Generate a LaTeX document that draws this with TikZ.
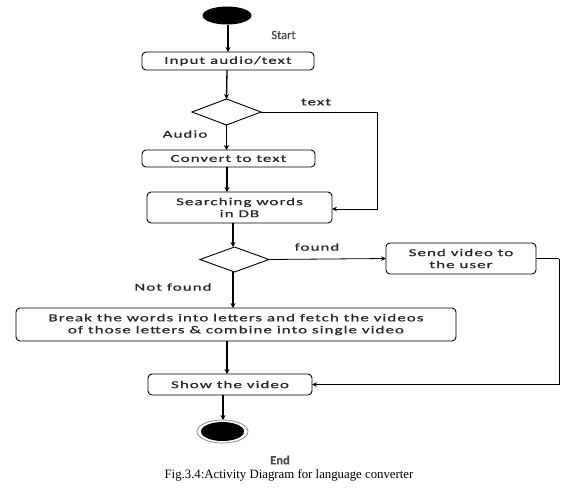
\documentclass[tikz,border=0pt]{standalone}
\usepackage{fontspec}
\setmainfont{Liberation Serif}
\newfontfamily\dfont[FakeStretch=1.6,LetterSpace=10,FakeBold=0.6]{Carlito}
\newfontfamily\lfont[FakeBold=0.4]{Carlito}
\usetikzlibrary{arrows.meta,shapes.geometric}
\begin{document}
\begin{tikzpicture}[x=1pt,y=-1pt,
  every node/.style={inner sep=0pt,outer sep=0pt},
  txt/.style={font=\dfont\fontsize{10.6}{12}\selectfont, text=black!85},
  actbox/.style={txt, draw=black, line width=0.9pt, rounded corners=4pt, align=center},
  decision/.style={diamond, draw=black, line width=0.9pt},
  lbl/.style={txt},
  flow/.style={draw=black, line width=1.3pt, -{Stealth[length=5pt,width=5pt]}},
  sideflow/.style={draw=black, line width=0.8pt, -{Stealth[length=5pt,width=4.5pt]}},
  sideline/.style={draw=black, line width=0.8pt}
]
\useasboundingbox (0,0) rectangle (581,488);

% start
\node[ellipse, fill=black, minimum width=49pt, minimum height=18pt] (start) at (227,15.5) {};
\node[font=\lfont\fontsize{12.5}{14}\selectfont, text=black!72] (startlbl) at (283.5,35) {Start};

\node[actbox, minimum width=172pt, minimum height=18pt] (input) at (228,61) {Input audio/text};
\node[decision, minimum width=69pt, minimum height=26pt] (d1) at (226.5,112) {};
\node[lbl] (textlbl) at (316,102) {text};
\node[lbl] (audiolbl) at (185,134) {Audio};
\node[actbox, minimum width=173pt, minimum height=17pt] (convert) at (228.5,158.5) {Convert to text};
\node[actbox, minimum width=185pt, minimum height=31pt] (search) at (239.5,207.5) {Searching words\\in DB};

\node[decision, minimum width=69pt, minimum height=25pt] (d2) at (234.5,259.5) {};
\node[lbl] (foundlbl) at (317,247) {found};
\node[actbox, minimum width=150pt, minimum height=31pt] (send) at (461,258.5) {Send video to\\the user};
\node[lbl] (notfoundlbl) at (173,287) {Not found};
\node[actbox, minimum width=440pt, minimum height=33pt] (break) at (236,324.5) {Break the words into letters and fetch the videos\\of those letters \& combine into single video};
\node[actbox, minimum width=164pt, minimum height=21pt] (show) at (230,384.5) {Show the video};

% end
\node[ellipse, draw=black!45, line width=0.8pt, minimum width=51pt, minimum height=23pt] (endo) at (222.5,431.5) {};
\node[ellipse, fill=black, minimum width=43pt, minimum height=19pt] (endi) at (222.5,431.5) {};
\node[font=\lfont\bfseries\fontsize{12.5}{14}\selectfont, text=black!70] (endlbl) at (280,460) {End};
\node[font=\rmfamily\fontsize{12.8}{14}\selectfont] (caption) at (289,475) {Fig.3.4:Activity Diagram for language converter};

% connectors
\coordinate (c1) at (377,112);
\coordinate (c2) at (377,209);
\coordinate (c3) at (559,258.5);
\coordinate (c4) at (559,384.5);

\draw[flow] (start.south -| 228,0) -- (input.north -| 228,0);
\draw[flow] (input.south -| 227,0) -- (d1.north);
\draw[flow] (d1.south) -- (d1.south |- convert.north);
\draw[flow] (convert.south -| 227,0) -- (search.north -| 227,0);
\draw[sideline] (d1.east) -- (c1);
\draw[sideflow] (c1) -- (c2) -- (c2 -| search.east);
\draw[flow] (search.south -| 233,0) -- (d2.north -| 233,0);
\draw[sideflow] (d2.east) -- (send.west);
\draw[flow] (d2.south -| 233,0) -- (break.north -| 233,0);
\draw[flow] (break.south -| 227,0) -- (show.north -| 227,0);
\draw[sideline] (send.east) -- (c3);
\draw[sideflow] (c3) -- (c4) -- (show.east);
\draw[flow] (show.south -| 223,0) -- (endo.north -| 223,0);
\end{tikzpicture}
\end{document}
